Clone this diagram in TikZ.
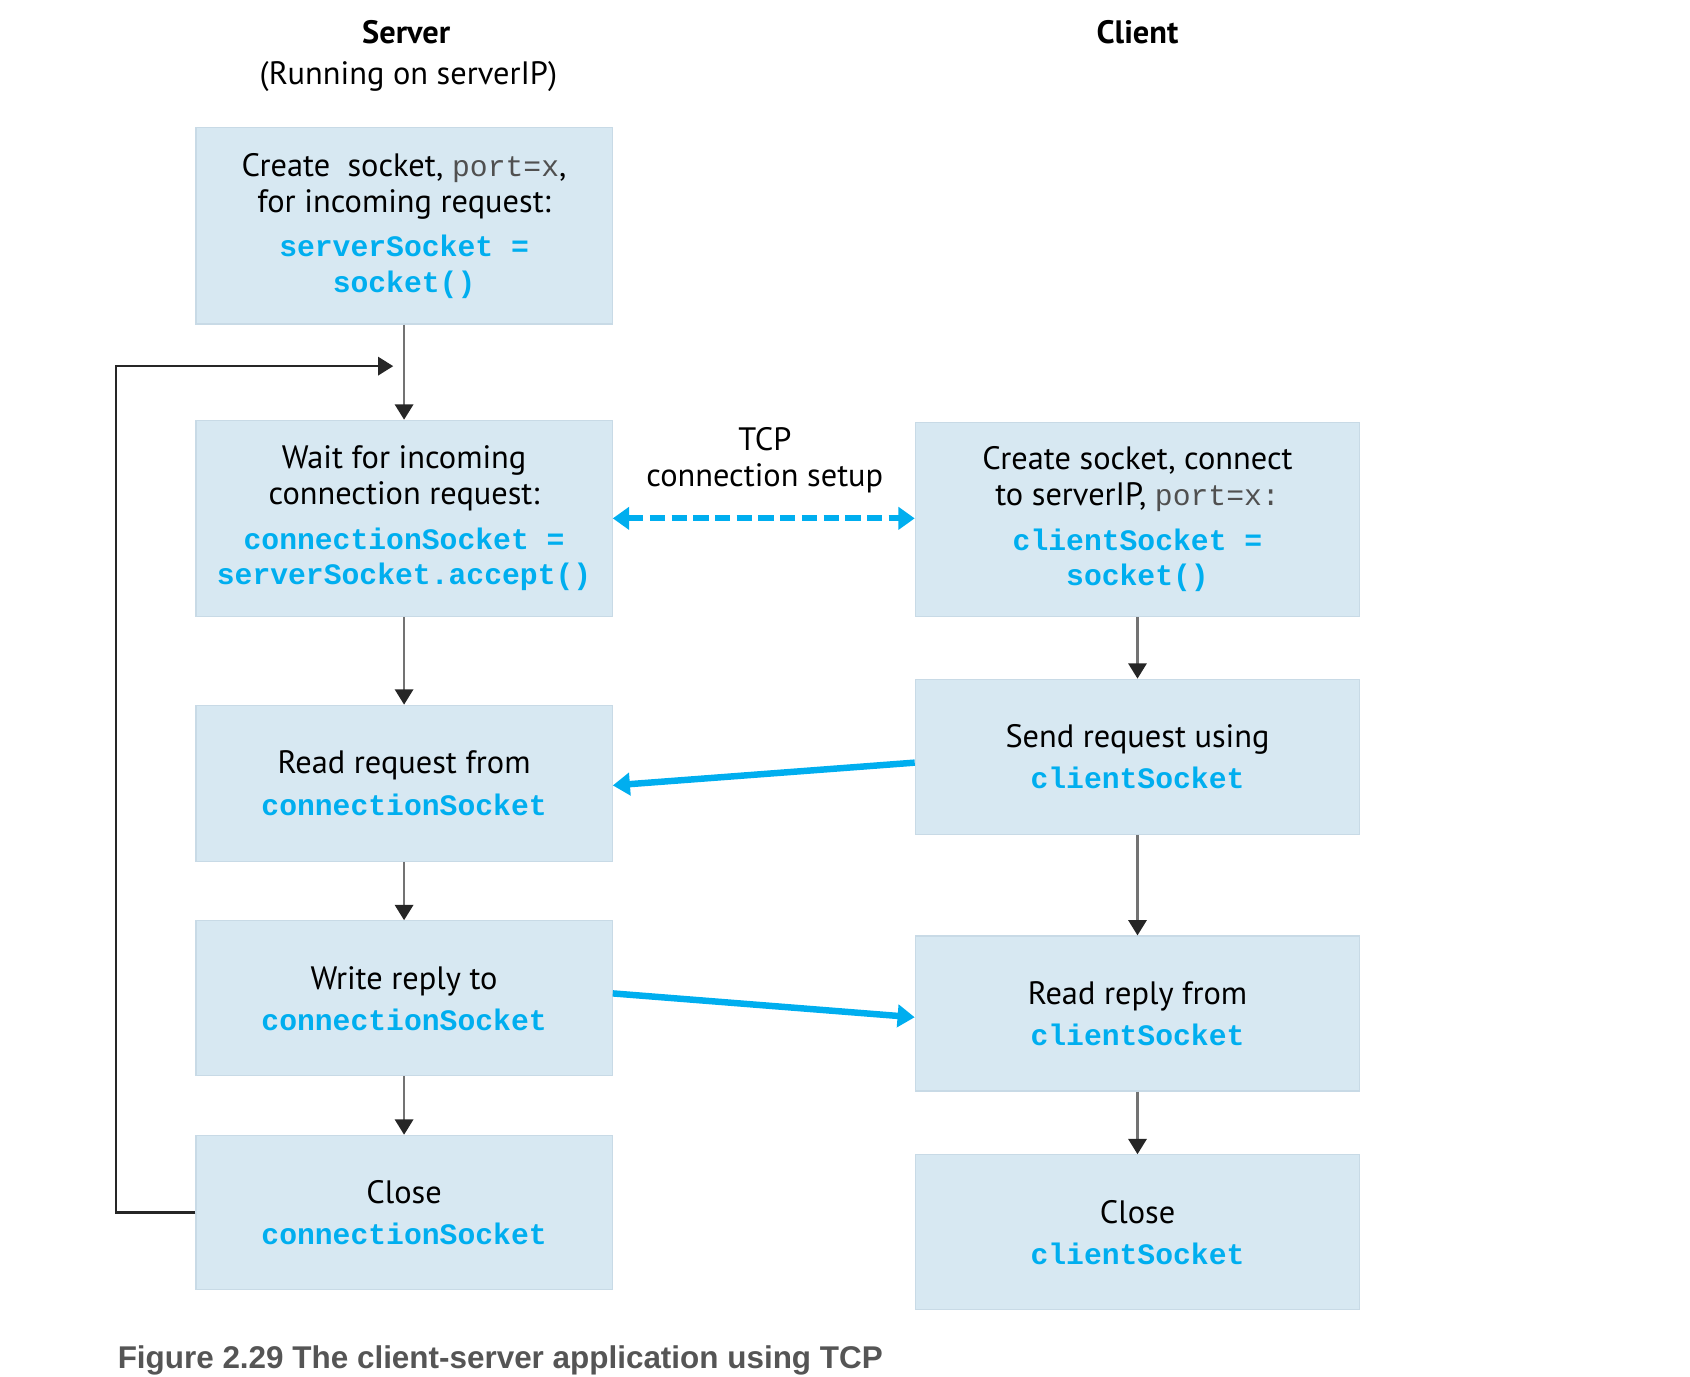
\documentclass[tikz,border=0pt]{standalone}
\usepackage{fontspec}
\setmainfont{PT Sans}
\setmonofont{Liberation Mono}
\newfontfamily\capfont{Liberation Sans}
\usetikzlibrary{arrows.meta}
\definecolor{boxblue}{HTML}{D7E8F2}
\definecolor{boxedge}{HTML}{C8DAE6}
\definecolor{sockcyan}{HTML}{00AEEF}
\definecolor{portgray}{HTML}{505050}
\definecolor{capgray}{HTML}{555555}
\newcommand{\sock}[1]{{\fontsize{7.8}{9}\selectfont\ttfamily\bfseries\color{sockcyan}#1}}
\newcommand{\portx}[1]{{\fontsize{7.8}{9}\selectfont\ttfamily\color{portgray}#1}}
\begin{document}
\begin{tikzpicture}[x=0.01cm, y=-0.01cm, font=\fontsize{8.5}{9.4}\selectfont,
  sbox/.style={fill=boxblue, draw=boxedge, line width=0.3pt, align=center, inner sep=0pt, minimum width=3.84cm},
  cbox/.style={sbox, minimum width=4.1cm},
  flow/.style={draw=black!55, line width=0.55pt, -{Triangle[length=4pt, width=4.8pt, color=black!85]}},
  loopline/.style={draw=black!85, line width=0.7pt, -{Triangle[length=4pt, width=4.8pt]}},
  msg/.style={draw=sockcyan, line width=1.7pt, -{Triangle[length=4.5pt, width=5.8pt]}},
  dual/.style={draw=sockcyan, line width=1.6pt, dash pattern=on 4pt off 1.7pt,
    {Triangle[length=4.3pt, width=5.8pt]}-{Triangle[length=4.3pt, width=5.8pt]}}]
\useasboundingbox (0,0) rectangle (1560,1271);
% column heads
\node (srv) at (375,30) {\bfseries Server};
\node (run) at (377,71) {(Running on serverIP)};
\node (cli) at (1050,30) {\bfseries Client};
% server side
\node[sbox, minimum height=1.81cm] (s1) at (373,208.5)
  {Create\ \ socket, \portx{port=x},\\ for incoming request:\\[2.3pt] \sock{serverSocket =}\\ \sock{socket()}};
\node[sbox, minimum height=1.81cm] (s2) at (373,478.5)
  {Wait for incoming\\ connection request:\\[2.3pt] \sock{connectionSocket =}\\ \sock{serverSocket.accept()}};
\node[sbox, minimum height=1.44cm] (s3) at (373,723) {Read request from\\[1.4pt] \sock{connectionSocket}};
\node[sbox, minimum height=1.43cm] (s4) at (373,921.5) {Write reply to\\[1.4pt] \sock{connectionSocket}};
\node[sbox, minimum height=1.42cm] (s5) at (373,1119) {Close\\[1.4pt] \sock{connectionSocket}};
% client side
\node[cbox, minimum height=1.79cm] (c1) at (1050,479.5)
  {Create socket, connect\\ to serverIP, \portx{port=x:}\\[2.3pt] \sock{clientSocket =}\\ \sock{socket()}};
\node[cbox, minimum height=1.43cm] (c2) at (1050,698.5) {Send request using\\[1.4pt] \sock{clientSocket}};
\node[cbox, minimum height=1.43cm] (c3) at (1050,935.5) {Read reply from\\[1.4pt] \sock{clientSocket}};
\node[cbox, minimum height=1.43cm] (c4) at (1050,1137.5) {Close\\[1.4pt] \sock{clientSocket}};
\node[align=center] (tcp) at (706,425) {TCP\\ connection setup};
\node[anchor=base west, inner sep=0pt, text=capgray, font=\capfont\bfseries\fontsize{8.25}{9}\selectfont] (cap) at (108,1263)
  {Figure 2.29 The client-server application using TCP};
% flow arrows
\draw[flow] (s1) -- (s2);
\draw[flow] (s2) -- (s3);
\draw[flow] (s3) -- (s4);
\draw[flow] (s4) -- (s5);
\draw[flow] (c1) -- (c2);
\draw[flow] (c2) -- (c3);
\draw[flow] (c3) -- (c4);
\coordinate (corner) at (107,338);
\coordinate (back) at (363,338);
\draw[loopline] (s5.west) -| (corner) -- (back);
% messages
\draw[dual] (s2.east) -- (s2.east -| c1.west);
\draw[msg] ([yshift=-1.56pt]c2.west) -- ([yshift=-0.57pt]s3.east);
\draw[msg] ([yshift=1.28pt]s4.east) -- ([yshift=-1pt]c3.west);
\end{tikzpicture}
\end{document}
